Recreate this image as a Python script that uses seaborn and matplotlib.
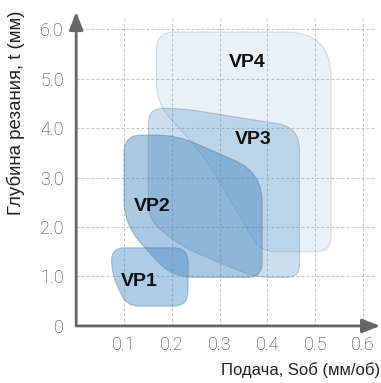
import numpy as np
import matplotlib
matplotlib.use('Agg')
import matplotlib.pyplot as plt
from matplotlib.path import Path
from matplotlib.patches import PathPatch
import seaborn as sns

# --- data: outlines of the feed / depth zones (S, mm/rev ; t, mm) ---
zones = ['VP1', 'VP2', 'VP3', 'VP4']
vp1_s = [0.074, 0.234, 0.234, 0.105, 0.074]
vp1_t = [1.58, 1.58, 0.40, 0.40, 1.07]
vp2_s = [0.100, 0.210, 0.389, 0.389, 0.200, 0.100]
vp2_t = [3.86, 3.86, 3.10, 0.98, 0.98, 2.05]
vp3_s = [0.151, 0.220, 0.467, 0.467, 0.375, 0.220, 0.151]
vp3_t = [4.40, 4.40, 4.02, 0.98, 0.98, 1.60, 2.15]
vp4_s = [0.168, 0.533, 0.533, 0.385, 0.270, 0.168]
vp4_t = [5.94, 5.94, 1.50, 1.50, 3.42, 4.50]
label_s = [0.131, 0.159, 0.371, 0.358]
label_t = [0.90, 2.42, 3.76, 5.32]
x_ticks = [0.1, 0.2, 0.3, 0.4, 0.5, 0.6]
x_tick_labels = ['0.1', '0.2', '0.3', '0.4', '0.5', '0.6']
y_ticks = [0, 1, 2, 3, 4, 5, 6]
y_tick_labels = ['0', '1.0', '2.0', '3.0', '4.0', '5.0', '6.0']

sns.set_theme(style='white')
plt.rcParams['font.family'] = ['Liberation Sans', 'DejaVu Sans']

XS = 9.7  # x stretch so the corners look round on screen


def rounded_path(s, t, radii):
    pts = np.column_stack([np.array(s) * XS, np.array(t, dtype=float)])
    n = len(pts)
    verts, codes = [], []
    for i in range(n):
        p, v, q = pts[i - 1], pts[i], pts[(i + 1) % n]
        d1, d2 = p - v, q - v
        l1, l2 = np.hypot(*d1), np.hypot(*d2)
        r = min(radii[i], l1 / 2, l2 / 2)
        verts += [v + d1 / l1 * r, v, v + d2 / l2 * r]
        codes += [Path.LINETO if i else Path.MOVETO, Path.CURVE3, Path.CURVE3]
    verts.append(verts[0])
    codes.append(Path.CLOSEPOLY)
    verts = np.array(verts)
    verts[:, 0] /= XS
    return Path(verts, codes)


fig = plt.figure(figsize=(3.81, 3.83), dpi=100)
ax = fig.add_axes([0.2, 0.149, 0.798, 0.82])
ax.set_xlim(0, 0.636)
ax.set_ylim(0, 6.35)

# grid
ax.hlines(y_ticks[1:], 0, 0.625, colors='#c4c4c4', linestyles=(0, (2.5, 2)), lw=0.8, zorder=1)
ax.vlines(x_ticks, 0, 6.2, colors='#c4c4c4', linestyles=(0, (2.5, 2)), lw=0.8, zorder=1)

# zones
shapes = [
    (vp4_s, vp4_t, [0.35, 0.9, 0.3, 0.3, 0.6, 0.4], (0.42, 0.64, 0.83), 0.15, 2, 0.18),
    (vp3_s, vp3_t, [0.3, 0.3, 0.45, 0.25, 0.3, 0.5, 0.3], (0.30, 0.56, 0.77), 0.29, 3, 0.25),
    (vp2_s, vp2_t, [0.35, 0.4, 0.6, 0.3, 0.45, 0.5], (0.27, 0.53, 0.75), 0.46, 4, 0.3),
    (vp1_s, vp1_t, [0.3, 0.3, 0.3, 0.25, 0.3], (0.30, 0.57, 0.79), 0.46, 5, 0.3),
]
for s, t, radii, col, a, z, ea in shapes:
    path = rounded_path(s, t, radii)
    ax.add_patch(PathPatch(path, facecolor=col, alpha=a, edgecolor='none', zorder=z))
    ax.add_patch(PathPatch(path, facecolor='none', edgecolor=(0.2, 0.35, 0.5, ea),
                           lw=0.8, zorder=z))

for name, s, t in zip(zones, label_s, label_t):
    ax.text(s, t, name, ha='center', va='center', fontsize=14, fontweight='bold',
            color='#111111', zorder=10)

# axes with arrows
for sp in ax.spines.values():
    sp.set_visible(False)
arrow = dict(arrowstyle='-|>,head_length=0.9,head_width=0.35', color='#666666', lw=2,
             shrinkA=0, shrinkB=0)
ax.annotate('', xy=(0.636, 0), xytext=(0, 0), arrowprops=arrow, annotation_clip=False)
ax.annotate('', xy=(0, 6.35), xytext=(0, 0), arrowprops=arrow, annotation_clip=False)

ax.set_xticks(x_ticks)
ax.set_xticklabels(x_tick_labels)
ax.set_yticks(y_ticks)
ax.set_yticklabels(y_tick_labels)
ax.tick_params(length=0, labelsize=13, labelcolor='#3a3a3a')
ax.tick_params(axis='x', pad=7)
ax.tick_params(axis='y', pad=9)
for lab in ax.get_xticklabels() + ax.get_yticklabels():
    lab.set_family(['Roboto', 'DejaVu Sans'])
    lab.set_fontweight('light')

ax.set_xlabel('Подача, Sоб (мм/об)', loc='right', fontsize=12, color='#222222', labelpad=6)
ax.set_ylabel('Глубина резания, t (мм)', fontsize=13.4, color='#222222')
ax.yaxis.set_label_coords(-0.17, 0.68)

plt.savefig('out.png', dpi=100)
